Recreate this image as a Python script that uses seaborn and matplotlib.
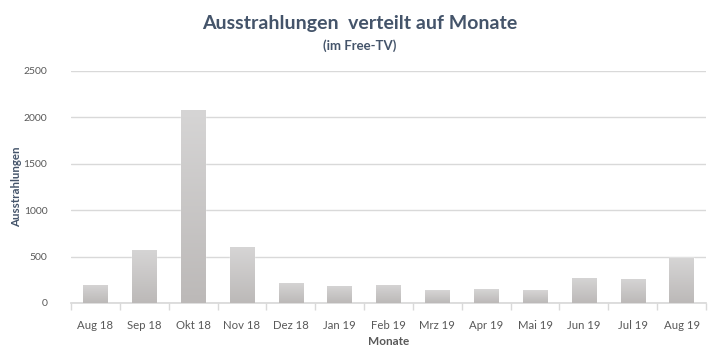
import numpy as np
import pandas as pd
import matplotlib

matplotlib.use('Agg')

import matplotlib.pyplot as plt
import seaborn as sns
from matplotlib.colors import LinearSegmentedColormap

months = ["Aug 18", "Sep 18", "Okt 18", "Nov 18", "Dez 18", "Jan 19", "Feb 19",
          "Mrz 19", "Apr 19", "Mai 19", "Jun 19", "Jul 19", "Aug 19"]
counts = [195, 575, 2080, 600, 220, 185, 195, 140, 150, 140, 270, 260, 490]
y_ticks = [0, 500, 1000, 1500, 2000, 2500]

df = pd.DataFrame({"Monate": months, "Ausstrahlungen": counts})

sns.set_theme(style="white")
plt.rcParams['font.family'] = ['Lato', 'DejaVu Sans']

fig = plt.figure(figsize=(7.2, 3.61), dpi=100)
ax = fig.add_axes([71 / 720, 1 - 303 / 361, 635 / 720, 232 / 361])

ax = sns.barplot(data=df, x="Monate", y="Ausstrahlungen", color="#cfcdcd",
                 width=0.5, ax=ax, zorder=2)

# gradient fill, light at top, darker near the base
grad = LinearSegmentedColormap.from_list("bar", ["#bcb9b8", "#d6d5d5"])
for p in ax.patches:
    x0, y0 = p.get_x(), p.get_y()
    w, h = p.get_width(), p.get_height()
    img = ax.imshow(np.linspace(0, 1, 100).reshape(-1, 1), cmap=grad,
                    origin="lower", aspect="auto",
                    extent=[x0, x0 + w, y0, y0 + h], zorder=3)
    img.set_clip_path(p)
ax.set_xlim(-0.5, len(months) - 0.5)
ax.set_ylim(0, 2500)

ax.set_yticks(y_ticks)
ax.yaxis.grid(True, color="#d9d9d9", linewidth=1)
ax.set_axisbelow(True)
for s in ["top", "right", "left"]:
    ax.spines[s].set_visible(False)
ax.spines["bottom"].set_color("#d9d9d9")

ax.set_xticks(np.arange(-0.5, len(months)), minor=True)
ax.tick_params(axis="x", which="minor", bottom=True, length=5, color="#d9d9d9", width=1)
ax.tick_params(axis="x", which="major", bottom=False, labelsize=8.2, labelcolor="#595959", pad=6)
ax.tick_params(axis="y", left=False, labelsize=7.5, labelcolor="#595959", pad=11)

ax.set_xlabel("Monate", fontsize=8.5, fontweight="bold", color="#595959", labelpad=4)
ax.set_ylabel("")
fig.text(17 / 720, 1 - 187 / 361, "Ausstrahlungen", rotation=90, ha="center", va="center",
         fontsize=8.3, fontweight="bold", color="#44546a")

fig.text(0.5, 1 - 24 / 361, "Ausstrahlungen  verteilt auf Monate", ha="center", va="center",
         fontsize=14, fontweight="bold", color="#44546a")
fig.text(0.5, 1 - 46 / 361, "(im Free-TV)", ha="center", va="center",
         fontsize=9.5, fontweight="bold", color="#44546a")

plt.savefig("out.png", dpi=100)
